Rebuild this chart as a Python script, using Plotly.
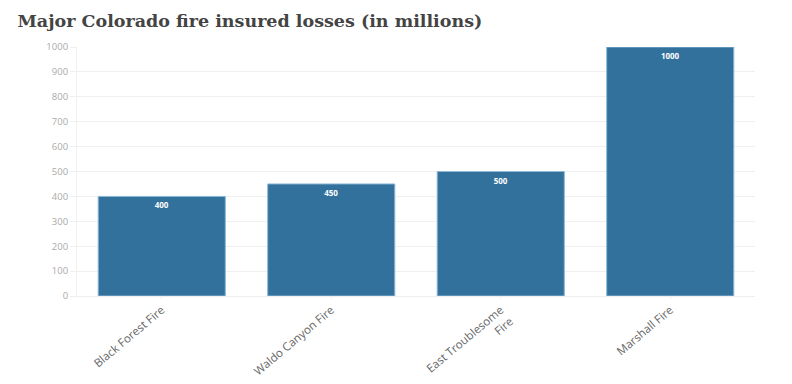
import plotly.graph_objects as go

categories = ["Black Forest Fire", "Waldo Canyon Fire", "East Troublesome<br>Fire", "Marshall Fire"]
losses = [400, 450, 500, 1000]
y_ticks = [0, 100, 200, 300, 400, 500, 600, 700, 800, 900, 1000]

fig = go.Figure(go.Bar(
    x=categories, y=losses,
    text=["<b>%d</b>" % v for v in losses],
    textposition="inside", insidetextanchor="end",
    textfont=dict(color="white", size=8, family="Open Sans"),
    marker=dict(color="#31719c", line=dict(color="#8db8d6", width=1)),
    width=0.75,
))
fig.update_layout(
    width=792, height=384,
    margin=dict(l=69, r=45, t=39, b=96, autoexpand=False),
    plot_bgcolor="white", paper_bgcolor="white",
    title=dict(text="<b>Major Colorado fire insured losses (in millions)</b>",
               x=0.012, xanchor="left", y=0.966, yanchor="middle",
               font=dict(family="DejaVu Serif", size=17.5, color="#444")),
    showlegend=False,
    uniformtext=dict(minsize=8, mode="show"),
)
fig.update_xaxes(tickangle=-40, tickfont=dict(family="Open Sans", size=11.5, color="#666"),
                 ticks="outside", ticklen=2, tickcolor="#eee", automargin=False,
                 showline=True, linecolor="#eee", showgrid=False)
fig.update_yaxes(range=[0, 1000], tickvals=y_ticks, tickfont=dict(family="Open Sans", size=9.5, color="#aaa"),
                 showgrid=True, gridcolor="#f0f0f0", zeroline=False, automargin=False,
                 showline=True, linecolor="#f0f0f0", ticks="outside", ticklen=6, tickcolor="#eee")
fig.write_html("out.html")
